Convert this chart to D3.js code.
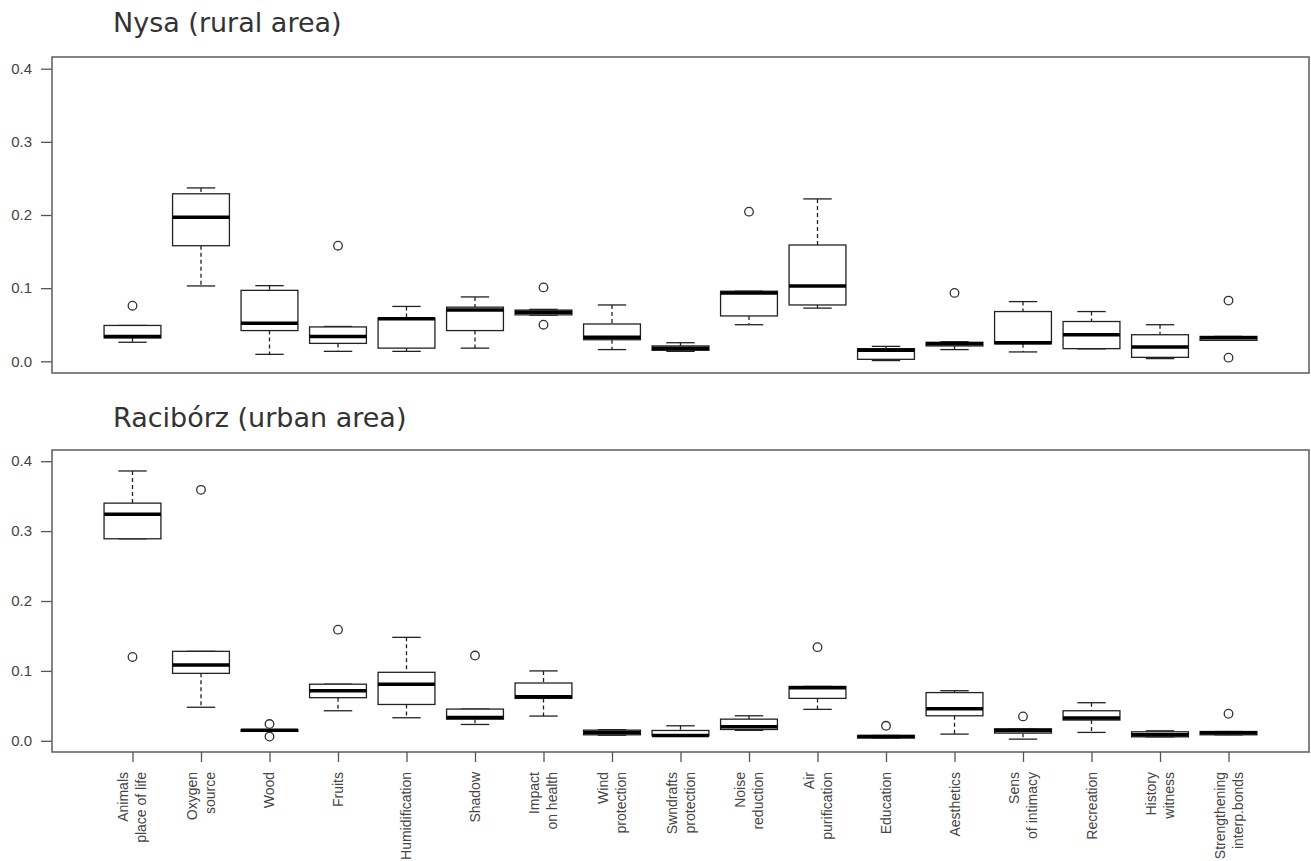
<!DOCTYPE html>
<html>
<head>
<meta charset="utf-8">
<script src="https://cdn.jsdelivr.net/npm/d3@7"></script>
<style>
  body { margin: 0; background: #fff; }
  svg { display: block; }
  .title { font-family: "DejaVu Sans", sans-serif; font-size: 27px; fill: #333; }
  .tick text { font-family: "Liberation Sans", Arial, sans-serif; font-size: 15px; fill: #444; }
  .xlab { font-family: "Liberation Sans", Arial, sans-serif; font-size: 14px; fill: #444; }
</style>
</head>
<body>
<svg id="chart" width="1311" height="861"></svg>
<script>
// category labels (lines separated by |)
var categories = ["Animals|place of life", "Oxygen|source", "Wood", "Fruits", "Humidification",
  "Shadow", "Impact|on health", "Wind|protection", "Swndrafts|protection", "Noise|reduction",
  "Air|purification", "Education", "Aesthetics", "Sens|of intimacy", "Recreation",
  "History|witness", "Strengthening|interp.bonds"];

var yTicks = [0.0, 0.1, 0.2, 0.3, 0.4];

// Nysa (rural area) - five number summaries
var nysaLow  = [0.026, 0.103, 0.0095, 0.0136, 0.0136, 0.018, 0.063, 0.016, 0.0136, 0.050, 0.0727, 0.001, 0.016, 0.0128, 0.017, 0.0037, 0.0286];
var nysaQ1   = [0.032, 0.158, 0.042, 0.0245, 0.018, 0.042, 0.0635, 0.0295, 0.015, 0.062, 0.077, 0.0027, 0.021, 0.024, 0.0173, 0.0054, 0.0286];
var nysaMed  = [0.034, 0.197, 0.052, 0.034, 0.058, 0.070, 0.067, 0.033, 0.018, 0.0935, 0.103, 0.015, 0.024, 0.0254, 0.0363, 0.0196, 0.0322];
var nysaQ3   = [0.049, 0.229, 0.097, 0.047, 0.059, 0.074, 0.070, 0.051, 0.021, 0.0958, 0.159, 0.0173, 0.026, 0.068, 0.0544, 0.0363, 0.034];
var nysaHigh = [0.049, 0.237, 0.1034, 0.0476, 0.075, 0.088, 0.071, 0.077, 0.0254, 0.0958, 0.222, 0.0204, 0.0268, 0.0816, 0.068, 0.050, 0.034];
var nysaOut  = [[0.076], [], [], [0.158], [], [], [0.101, 0.050], [], [], [0.2046], [], [], [0.0935], [], [], [], [0.083, 0.005]];

// Racibórz (urban area)
var racLow  = [0.289, 0.048, 0.0135, 0.043, 0.033, 0.0234, 0.0354, 0.008, 0.0072, 0.015, 0.045, 0.004, 0.0096, 0.0024, 0.012, 0.0057, 0.0086];
var racQ1   = [0.289, 0.0965, 0.0135, 0.0617, 0.052, 0.031, 0.0607, 0.0086, 0.0072, 0.0162, 0.0607, 0.004, 0.0358, 0.011, 0.0297, 0.0057, 0.0086];
var racMed  = [0.324, 0.1085, 0.015, 0.0717, 0.081, 0.0334, 0.063, 0.012, 0.0076, 0.020, 0.076, 0.006, 0.046, 0.0148, 0.0325, 0.0086, 0.0115];
var racQ3   = [0.340, 0.128, 0.016, 0.081, 0.098, 0.0454, 0.0827, 0.0153, 0.0148, 0.031, 0.0778, 0.0076, 0.069, 0.0172, 0.043, 0.0129, 0.0133];
var racHigh = [0.386, 0.128, 0.016, 0.081, 0.148, 0.0454, 0.100, 0.016, 0.0215, 0.0358, 0.0778, 0.0076, 0.0717, 0.0172, 0.0545, 0.0143, 0.0133];
var racOut  = [[0.120], [0.359], [0.024, 0.006], [0.159], [], [0.122], [], [], [], [], [0.134], [0.0215], [], [0.0349], [], [], [0.0387]];

function buildRows(low, q1, med, q3, high, out) {
    return categories.map(function(c, i) {
        return { i: i + 1, low: low[i], q1: q1[i], med: med[i], q3: q3[i], high: high[i], out: out[i] };
    });
}

var panels = [
    { title: "Nysa (rural area)", top: 57, bottom: 373, titleY: 32, rows: buildRows(nysaLow, nysaQ1, nysaMed, nysaQ3, nysaHigh, nysaOut) },
    { title: "Racibórz (urban area)", top: 450, bottom: 752, titleY: 427, rows: buildRows(racLow, racQ1, racMed, racQ3, racHigh, racOut), labels: true }
];

var svg = d3.select("#chart");
var left = 52, right = 1309;

var x = d3.scaleLinear()
    .domain([1 - 1.175, categories.length + 1.175])
    .range([left, right]);

var boxW = x(0.83) - x(0);

panels.forEach(function(p) {
    var y = d3.scaleLinear().domain([-0.016, 0.416]).range([p.bottom, p.top]);
    var g = svg.append("g");

    svg.append("text")
        .attr("class", "title")
        .attr("x", 113)
        .attr("y", p.titleY)
        .text(p.title);

    // y axis
    var ya = g.append("g")
        .attr("transform", "translate(" + left + ",0)")
        .call(d3.axisLeft(y).tickValues(yTicks).tickSize(11).tickPadding(9).tickFormat(d3.format(".1f")));
    ya.select(".domain").remove();
    ya.selectAll(".tick line").attr("stroke", "#555").attr("stroke-width", 1.3);

    var boxes = g.selectAll(".bx")
        .data(p.rows)
        .enter().append("g")
        .attr("class", "bx");

    // whiskers (dashed)
    boxes.append("line")
        .attr("x1", function(d) { return x(d.i); })
        .attr("x2", function(d) { return x(d.i); })
        .attr("y1", function(d) { return y(d.high); })
        .attr("y2", function(d) { return y(d.q3); })
        .attr("stroke", "#222").attr("stroke-width", 1.3).attr("stroke-dasharray", "4,3");
    boxes.append("line")
        .attr("x1", function(d) { return x(d.i); })
        .attr("x2", function(d) { return x(d.i); })
        .attr("y1", function(d) { return y(d.q1); })
        .attr("y2", function(d) { return y(d.low); })
        .attr("stroke", "#222").attr("stroke-width", 1.3).attr("stroke-dasharray", "4,3");

    // staples
    ["high", "low"].forEach(function(k) {
        boxes.append("line")
            .attr("x1", function(d) { return x(d.i) - boxW / 4; })
            .attr("x2", function(d) { return x(d.i) + boxW / 4; })
            .attr("y1", function(d) { return y(d[k]); })
            .attr("y2", function(d) { return y(d[k]); })
            .attr("stroke", "#222").attr("stroke-width", 1.3);
    });

    // box
    boxes.append("rect")
        .attr("x", function(d) { return x(d.i) - boxW / 2; })
        .attr("width", boxW)
        .attr("y", function(d) { return y(d.q3); })
        .attr("height", function(d) { return Math.max(0.5, y(d.q1) - y(d.q3)); })
        .attr("fill", "#fff")
        .attr("stroke", "#222").attr("stroke-width", 1.3);

    // median
    boxes.append("line")
        .attr("x1", function(d) { return x(d.i) - boxW / 2; })
        .attr("x2", function(d) { return x(d.i) + boxW / 2; })
        .attr("y1", function(d) { return y(d.med); })
        .attr("y2", function(d) { return y(d.med); })
        .attr("stroke", "#000").attr("stroke-width", 3.5);

    // outliers
    boxes.selectAll("circle")
        .data(function(d) { return d.out.map(function(v) { return { i: d.i, v: v }; }); })
        .enter().append("circle")
        .attr("cx", function(d) { return x(d.i); })
        .attr("cy", function(d) { return y(d.v); })
        .attr("r", 4.3)
        .attr("fill", "none")
        .attr("stroke", "#333").attr("stroke-width", 1.3);

    // frame
    g.append("rect")
        .attr("x", left).attr("y", p.top)
        .attr("width", right - left).attr("height", p.bottom - p.top)
        .attr("fill", "none")
        .attr("stroke", "#666").attr("stroke-width", 1.6);

    if (p.labels) {
        var xa = g.append("g")
            .attr("transform", "translate(0," + p.bottom + ")")
            .call(d3.axisBottom(x).tickValues(d3.range(1, categories.length + 1)).tickSize(10).tickFormat(""));
        xa.select(".domain").remove();
        xa.selectAll(".tick line").attr("stroke", "#555").attr("stroke-width", 1.3);

        var lab = g.selectAll(".xlab")
            .data(categories)
            .enter().append("text")
            .attr("class", "xlab")
            .attr("text-anchor", "end")
            .attr("transform", function(d, i) { return "translate(" + x(i + 1) + "," + (p.bottom + 20) + ") rotate(-90)"; });

        lab.each(function(d) {
            var lines = d.split("|");
            var t = d3.select(this);
            lines.forEach(function(s, k) {
                var off = (k - (lines.length - 1) / 2) * 18;
                t.append("tspan")
                    .attr("x", 0)
                    .attr("y", off)
                    .attr("dominant-baseline", "central")
                    .text(s);
            });
        });
    }
});
</script>
</body>
</html>
